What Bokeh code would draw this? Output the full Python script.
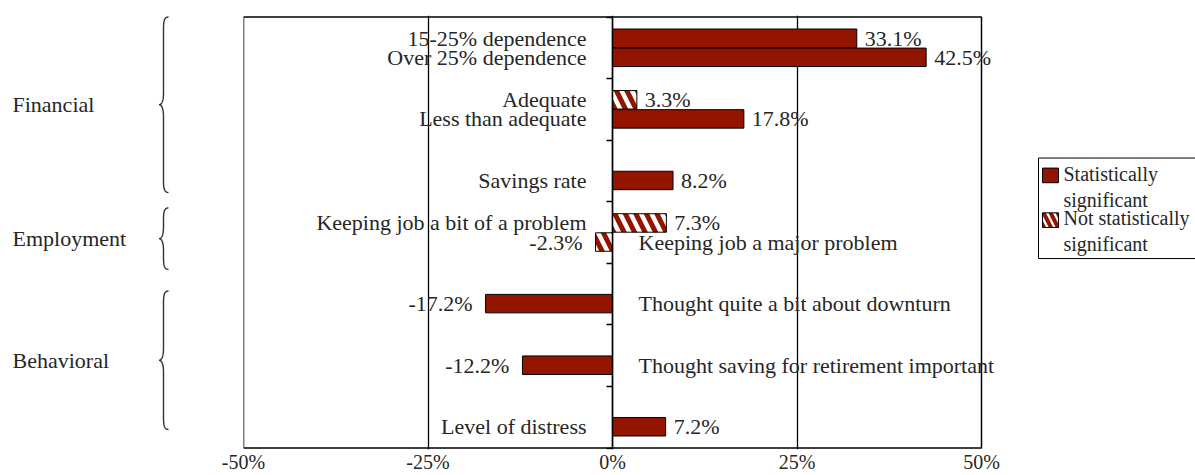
import numpy as np
from bokeh.plotting import figure
from bokeh.models import (Range1d, FixedTicker, PrintfTickFormatter, ColumnDataSource,
                          LinearAxis, LabelSet)
from bokeh.layouts import row
from bokeh.embed import file_html
from bokeh.resources import INLINE
from bokeh.core.properties import value

# ---------------- data ----------------
bar_labels = ["15-25% dependence", "Over 25% dependence", "Adequate", "Less than adequate",
              "Savings rate", "Keeping job a bit of a problem", "Keeping job a major problem",
              "Thought quite a bit about downturn", "Thought saving for retirement important",
              "Level of distress"]
bar_values = [33.1, 42.5, 3.3, 17.8, 8.2, 7.3, -2.3, -17.2, -12.2, 7.2]
bar_significant = [True, True, False, True, True, False, False, True, True, True]
bar_cluster = [0, 0, 1, 1, 2, 3, 3, 4, 5, 6]
bar_slot = [0, 1, 0, 1, 1, 0, 1, 1, 1, 1]
n_clusters = 7

group_names = ["Financial", "Employment", "Behavioral"]
group_top = [0.0, 3.1, 4.45]
group_bottom = [2.85, 4.1, 6.7]

x_ticks = [-50, -25, 0, 25, 50]
legend_labels = ["Statistically\nsignificant", "Not statistically\nsignificant"]

# ---------------- style ----------------
FONT = "Liberation Serif"
TXT = "#262626"
RED = "#931500"
H = 475
TOP = 15
BOT = 26
BAR_H = 0.3
SLOT_OFF = 0.155
LBL_SIZE = "22px"
VAL_SIZE = "22px"
BOX_W = 738          # pixel width of the -50..50 box
EXTRA_R = 29         # room right of the box for labels that overflow it
PAD_PX = 1.5

frame_h = H - TOP - BOT
pad = n_clusters * PAD_PX / (frame_h - 2 * PAD_PX)
xmin, xmax = x_ticks[0], x_ticks[-1]
x_hi = xmax + (xmax - xmin) * EXTRA_R / BOX_W

ypos = [c + 0.5 + (s - 0.5) * 2 * SLOT_OFF for c, s in zip(bar_cluster, bar_slot)]


def subset(cond):
    idx = [i for i in range(len(bar_values)) if cond(i)]
    return ColumnDataSource(dict(
        y=[ypos[i] for i in idx],
        v=[bar_values[i] for i in idx],
        label=[bar_labels[i] for i in idx],
        vtext=[f"{bar_values[i]:.1f}%" for i in idx],
    ))


def style_xaxis(ax, hidden=False):
    ax.major_tick_in = 0
    ax.major_tick_out = 0
    ax.minor_tick_in = 0
    ax.minor_tick_out = 0
    ax.major_label_standoff = 1
    ax.major_label_text_font = FONT
    ax.major_label_text_font_size = "20px"
    ax.major_label_text_color = TXT
    ax.axis_line_color = None
    ax.formatter = PrintfTickFormatter(format="%d%%")
    if hidden:
        ax.major_label_text_alpha = 0


yr = Range1d(n_clusters + pad, -pad)

# ---------------- main plot ----------------
p = figure(width=35 + BOX_W + EXTRA_R, height=H, x_range=Range1d(xmin, x_hi), y_range=yr,
           output_backend="svg", toolbar_location=None, y_axis_location=None,
           min_border_left=35, min_border_right=0, min_border_top=TOP, min_border_bottom=BOT)
p.background_fill_color = "white"
p.border_fill_color = "white"
p.outline_line_color = None
p.ygrid.visible = False
p.xgrid.ticker = FixedTicker(ticks=x_ticks[1:-1])
p.xgrid.grid_line_color = "black"
p.xgrid.grid_line_width = 1.3
p.xgrid.grid_line_alpha = 1.0
p.xaxis.ticker = FixedTicker(ticks=x_ticks)
style_xaxis(p.xaxis[0])

# plot box
p.quad(left=xmin, right=xmax, top=0, bottom=n_clusters, fill_color=None,
       line_color="black", line_width=1.5)

ya = LinearAxis(fixed_location=0, ticker=FixedTicker(ticks=list(range(n_clusters + 1))))
ya.major_tick_out = 6
ya.major_tick_in = 0
ya.minor_tick_in = 0
ya.minor_tick_out = 0
ya.major_label_text_alpha = 0
ya.major_label_text_font_size = "1px"
ya.axis_line_color = "black"
ya.axis_line_width = 1.5
ya.major_tick_line_width = 1.5
ya.bounds = (0, n_clusters)
p.add_layout(ya, "left")

sig_src = subset(lambda i: bar_significant[i])
ns_src = subset(lambda i: not bar_significant[i])
p.hbar(y="y", left=0, right="v", height=BAR_H, source=sig_src,
       fill_color=RED, line_color="black", line_width=1)
p.hbar(y="y", left=0, right="v", height=BAR_H, source=ns_src,
       fill_color="white", hatch_pattern="\\", hatch_color=RED, hatch_weight=5,
       hatch_scale=21, line_color="black", line_width=1)

pos_src = subset(lambda i: bar_values[i] >= 0)
neg_src = subset(lambda i: bar_values[i] < 0)

lbl = dict(text_font=value(FONT), text_font_size=value(LBL_SIZE),
           text_color=value(TXT), text_baseline=value("middle"))
val = dict(text_font=value(FONT), text_font_size=value(VAL_SIZE),
           text_color=value(TXT), text_baseline=value("middle"))
p.add_layout(LabelSet(x="v", y="y", text="vtext", x_offset=8, text_align=value("left"),
                      source=pos_src, **val))
p.add_layout(LabelSet(x="v", y="y", text="vtext", x_offset=-13, text_align=value("right"),
                      source=neg_src, **val))
p.add_layout(LabelSet(x=0, y="y", text="label", x_offset=-26, text_align=value("right"),
                      source=pos_src, **lbl))
p.add_layout(LabelSet(x=0, y="y", text="label", x_offset=26, text_align=value("left"),
                      source=neg_src, **lbl))

# ---------------- left panel: groups + braces ----------------
LW = 208
pl = figure(width=LW, height=H, x_range=Range1d(0, LW), y_range=yr,
            output_backend="svg", toolbar_location=None, y_axis_location=None,
            min_border_left=0, min_border_right=0, min_border_top=TOP, min_border_bottom=BOT)
pl.outline_line_color = None
pl.grid.visible = False
pl.xaxis.ticker = FixedTicker(ticks=[100])
style_xaxis(pl.xaxis[0], hidden=True)


def bez(p0, p1, p2, p3, n=24):
    t = np.linspace(0, 1, n)[:, None]
    pts = ((1 - t) ** 3) * np.array(p0) + 3 * ((1 - t) ** 2) * t * np.array(p1) \
        + 3 * (1 - t) * t ** 2 * np.array(p2) + t ** 3 * np.array(p3)
    return pts


def brace(y0, y1, xs=163.0, xe=168.0, xt=158.5, r=0.2):
    ym = (y0 + y1) / 2
    segs = [
        bez((xe, y0), (xs + 0.5, y0), (xs, y0 + r * 0.4), (xs, y0 + r)),
        np.array([[xs, y0 + r], [xs, ym - r]]),
        bez((xs, ym - r), (xs, ym - r * 0.35), (xs - 1.5, ym), (xt, ym)),
        bez((xt, ym), (xs - 1.5, ym), (xs, ym + r * 0.35), (xs, ym + r)),
        np.array([[xs, ym + r], [xs, y1 - r]]),
        bez((xs, y1 - r), (xs, y1 - r * 0.4), (xs + 0.5, y1), (xe, y1)),
    ]
    pts = np.vstack(segs)
    return list(pts[:, 0]), list(pts[:, 1])


bx, by = [], []
for t0, t1 in zip(group_top, group_bottom):
    xs_, ys_ = brace(t0, t1)
    bx.append(xs_)
    by.append(ys_)
pl.multi_line(bx, by, line_color="#333333", line_width=1.4)

group_mid = [(a + b) / 2 for a, b in zip(group_top, group_bottom)]
pl.text(x=[12] * len(group_names), y=group_mid, text=group_names,
        text_font=value(FONT), text_font_size=value(LBL_SIZE), text_color=TXT,
        text_align="left", text_baseline="middle")

# ---------------- right panel: legend ----------------
RW = 1195 - LW - (35 + BOX_W + EXTRA_R)
pr = figure(width=RW, height=H, x_range=Range1d(0, RW), y_range=Range1d(H, 0),
            output_backend="svg", toolbar_location=None,
            x_axis_location=None, y_axis_location=None, min_border=0)
pr.outline_line_color = None
pr.grid.visible = False
pr.quad(left=28, right=RW + 5, top=156, bottom=266, fill_color=None,
        line_color="black", line_width=1)
pr.rect(x=40, y=175, width=16, height=16, fill_color=RED, line_color="black", line_width=1)
pr.rect(x=40, y=224, width=16, height=16, fill_color="white", hatch_pattern="\\",
        hatch_color=RED, hatch_weight=4, hatch_scale=14, line_color="black", line_width=1)
pr.text(x=[53, 53], y=[161, 210], text=legend_labels, text_font=value(FONT),
        text_font_size=value("20px"), text_color=TXT, text_align="left",
        text_baseline="top", text_line_height=1.18)

layout = row(pl, p, pr)
open("out.html", "w").write(file_html(layout, INLINE))
